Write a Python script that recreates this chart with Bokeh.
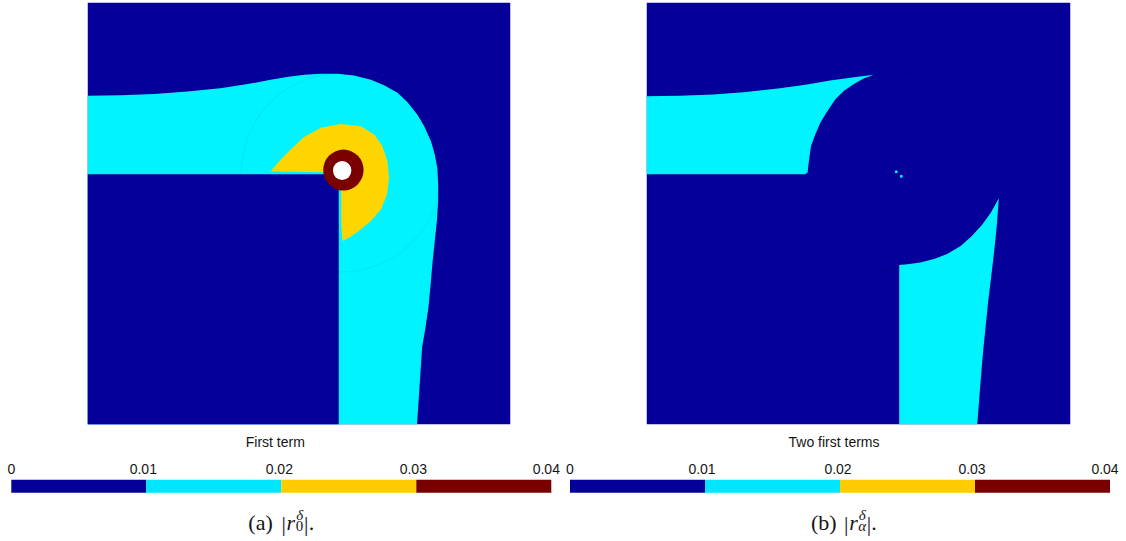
from bokeh.plotting import figure
from bokeh.layouts import column, row
from bokeh.models import Range1d
from bokeh.core.properties import value
from bokeh.embed import file_html
from bokeh.resources import INLINE

# ---- colour scale: |r| binned in steps of 0.01 ----
LEVELS = [0.0, 0.01, 0.02, 0.03, 0.04]
TICK_LABELS = ["0", "0.01", "0.02", "0.03", "0.04"]
FIELD_COLORS = ["#05009A", "#00F4FF", "#FFD500", "#7A0000"]
BAR_COLORS = ["#05009A", "#00E6FF", "#FFCC00", "#780000"]

# ---- panel (a): first term, level-set outlines on the unit square ----
# outer edge of the 0.01 level (band along the top-left, around the corner, down the column)
A_CYAN_X = [0.000, 0.079, 0.158, 0.236, 0.314, 0.375, 0.433, 0.475, 0.513, 0.552,
            0.591, 0.630, 0.670, 0.701, 0.733, 0.756, 0.780, 0.796, 0.812, 0.821,
            0.827, 0.829, 0.829, 0.826, 0.821, 0.816, 0.811, 0.806, 0.799, 0.791,
            0.785, 0.779, 0.000]
A_CYAN_Y = [0.779, 0.780, 0.783, 0.789, 0.797, 0.806, 0.817, 0.824, 0.829, 0.831,
            0.831, 0.827, 0.817, 0.804, 0.786, 0.764, 0.734, 0.707, 0.671, 0.640,
            0.608, 0.569, 0.530, 0.482, 0.435, 0.388, 0.330, 0.277, 0.230, 0.183,
            0.090, 0.000, 0.000]
# re-entrant corner region below the 0.01 level
A_LOW_X = [0.000, 0.594, 0.594, 0.593, 0.590, 0.585, 0.578, 0.569, 0.558, 0.545, 0.000]
A_LOW_Y = [0.000, 0.000, 0.553, 0.563, 0.572, 0.580, 0.587, 0.591, 0.593, 0.593, 0.593]
# 0.02 level
A_YELLOW_X = [0.433, 0.457, 0.481, 0.512, 0.552, 0.599, 0.646, 0.678, 0.697, 0.709,
              0.713, 0.708, 0.694, 0.670, 0.642, 0.619, 0.603,
              0.600, 0.600, 0.599, 0.597, 0.592, 0.585, 0.575, 0.560, 0.473]
A_YELLOW_Y = [0.600, 0.628, 0.652, 0.681, 0.703, 0.712, 0.707, 0.687, 0.660, 0.624,
              0.585, 0.545, 0.510, 0.482, 0.459, 0.443, 0.435,
              0.473, 0.545, 0.560, 0.572, 0.583, 0.591, 0.596, 0.598, 0.599]
# 0.03 level around the singular point, and the excluded hole
A_RED = dict(x=0.605, y=0.603, w=0.0955, h=0.097)
A_HOLE = dict(x=0.602, y=0.602, w=0.0435, h=0.045)

# ---- panel (b): two first terms ----
B_BAND_X = [0.000, 0.079, 0.158, 0.236, 0.315, 0.375, 0.433, 0.485, 0.536, 0.512,
            0.489, 0.465, 0.445, 0.426, 0.410, 0.398, 0.388, 0.384, 0.381, 0.380,
            0.374, 0.000]
B_BAND_Y = [0.778, 0.779, 0.782, 0.788, 0.797, 0.805, 0.815, 0.822, 0.829, 0.820,
            0.807, 0.790, 0.770, 0.742, 0.715, 0.687, 0.660, 0.632, 0.608, 0.597,
            0.593, 0.593]
B_COL_X = [0.596, 0.615, 0.646, 0.678, 0.709, 0.741, 0.768, 0.792, 0.812, 0.831,
           0.826, 0.820, 0.813, 0.806, 0.800, 0.794, 0.787, 0.780, 0.596]
B_COL_Y = [0.378, 0.380, 0.384, 0.392, 0.404, 0.423, 0.447, 0.474, 0.502, 0.536,
           0.470, 0.411, 0.350, 0.293, 0.234, 0.175, 0.090, 0.000, 0.000]
B_DOT_X = [0.589, 0.601]
B_DOT_Y = [0.599, 0.588]

# faint circle of the enriched zone around the corner singularity
ZONE = dict(x=0.600, y=0.597, d=0.472)

SANS = value("Liberation Sans")
SERIF = value("Liberation Serif")
INK = "#151515"


def field_figure(left, right, top, bottom, frame_w, frame_h):
    p = figure(width=left + frame_w + right, height=top + frame_h + bottom,
               x_range=Range1d(0, 1), y_range=Range1d(0, 1),
               x_axis_type=None, y_axis_type=None, toolbar_location=None,
               output_backend="svg", min_border_left=left, min_border_right=right,
               min_border_top=top, min_border_bottom=bottom)
    p.grid.visible = False
    p.outline_line_color = None
    p.background_fill_color = "white"
    p.border_fill_color = "white"
    p.quad(left=[0], right=[1], bottom=[0], top=[1],
           fill_color=FIELD_COLORS[0], line_color=None)
    return p


def zone_ring(p, alpha):
    p.ellipse(x=[ZONE["x"]], y=[ZONE["y"]], width=ZONE["d"], height=ZONE["d"],
              fill_color=None, line_color="#000040", line_alpha=alpha, line_width=2)


# panel (a)
fa = field_figure(87, 53, 1, 2, 423, 423)
fa.patch(A_CYAN_X, A_CYAN_Y, fill_color=FIELD_COLORS[1], line_color=None)
fa.patch(A_LOW_X, A_LOW_Y, fill_color=FIELD_COLORS[0], line_color=None)
zone_ring(fa, 0.035)
fa.patch(A_YELLOW_X, A_YELLOW_Y, fill_color=FIELD_COLORS[2], line_color=None)
fa.ellipse(x=[A_RED["x"]], y=[A_RED["y"]], width=A_RED["w"], height=A_RED["h"],
           fill_color=FIELD_COLORS[3], line_color=None)
fa.ellipse(x=[A_HOLE["x"]], y=[A_HOLE["y"]], width=A_HOLE["w"], height=A_HOLE["h"],
           fill_color="white", line_color=None)

# panel (b)
fb = field_figure(83, 56, 2, 2, 424, 422)
zone_ring(fb, 0.06)
fb.patch(B_BAND_X, B_BAND_Y, fill_color=FIELD_COLORS[1], line_color=None)
fb.patch(B_COL_X, B_COL_Y, fill_color=FIELD_COLORS[1], line_color=None)
fb.scatter(B_DOT_X, B_DOT_Y, size=3, fill_color=FIELD_COLORS[1], line_color=None)


def colorbar_figure(left_px, title, letter, sub, cap_dx):
    scale = 540 / LEVELS[-1]          # pixels per unit of |r|
    w, h = 563, 115
    p = figure(width=w, height=h,
               x_range=Range1d(-left_px / scale, LEVELS[-1] + (w - left_px - 540) / scale),
               y_range=Range1d(h, 0),
               x_axis_type=None, y_axis_type=None, toolbar_location=None,
               output_backend="svg", min_border=0)
    p.grid.visible = False
    p.outline_line_color = None
    p.background_fill_color = "white"
    p.border_fill_color = "white"
    mid = (LEVELS[0] + LEVELS[-1]) / 2

    p.text(x=[mid], y=[15], text=[title], x_offset=-6, text_align="center",
           text_baseline="alphabetic", text_font=SANS, text_font_size="14px",
           text_color=INK)
    p.text(x=LEVELS, y=[42] * len(LEVELS), text=TICK_LABELS,
           x_offset=[0, -3, -2, -3, -5], text_align="center",
           text_baseline="alphabetic", text_font=SANS, text_font_size="14px",
           text_color=INK)
    p.quad(left=LEVELS[:-1], right=LEVELS[1:], top=[53.3] * 4, bottom=[66.3] * 4,
           fill_color=BAR_COLORS, line_color=None)

    # caption "(x)  |r_sub^delta|."
    base = 96
    big, small = 22, 15
    x = cap_dx
    pieces = []
    pieces.append(("(" + letter + ")", "normal", big, base, x)); x += 1.14 * big + 8
    pieces.append(("|", "normal", big, base + 1, x)); x += 0.2 * big + 0.8
    pieces.append(("r", "italic", big, base, x)); x += 0.39 * big + 0.5
    pieces.append((sub[0], sub[1], small, base + 3, x))
    pieces.append(("δ", "italic", small, base - 8, x + 0.5)); x += 0.52 * small + 0.5
    pieces.append(("|", "normal", big, base + 1, x)); x += 0.2 * big + 0.3
    pieces.append((".", "normal", big, base, x))
    for txt, style, size, yy, dx in pieces:
        p.text(x=[mid], y=[yy], text=[txt], x_offset=dx, text_align="left",
               text_baseline="alphabetic", text_font=SERIF,
               text_font_style=style, text_font_size=f"{size}px", text_color=INK)
    return p


ca = colorbar_figure(10.8, "First term", "a", ("0", "normal"), -33)
cb = colorbar_figure(6.5, "Two first terms", "b", ("α", "italic"), -29)

layout = column(row(fa, fb, spacing=0), row(ca, cb, spacing=0), spacing=0)

open("out.html", "w").write(file_html(layout, INLINE))
